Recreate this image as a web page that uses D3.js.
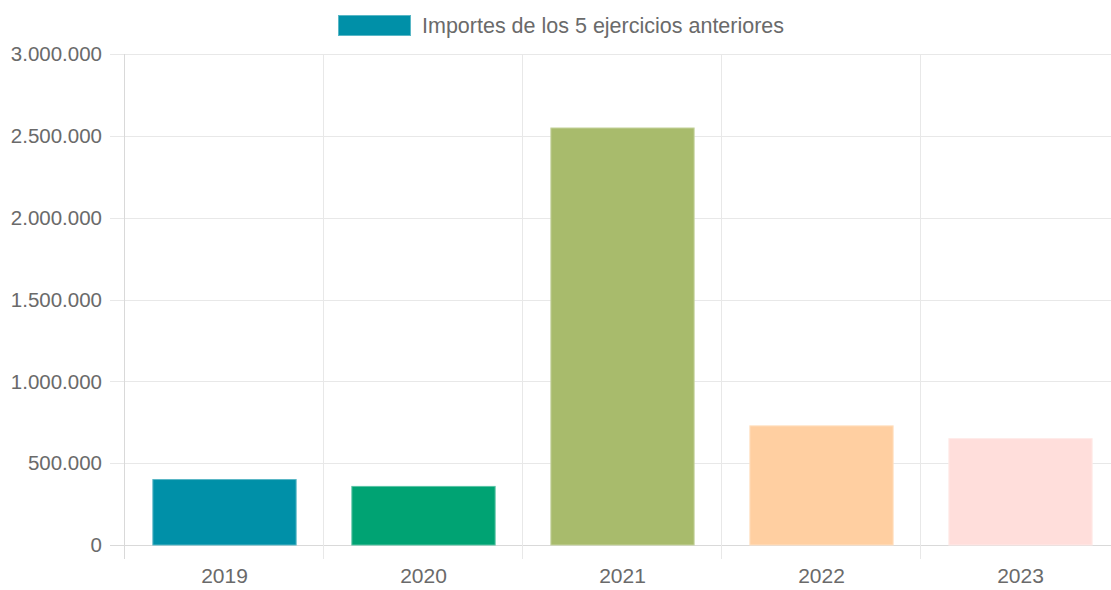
<!DOCTYPE html>
<html>
<head>
<meta charset="utf-8">
<script src="https://cdn.jsdelivr.net/npm/d3@7"></script>
<style>
  body { margin: 0; background: #fff; }
  svg text { font-family: "Liberation Sans", Arial, sans-serif; fill: #6a6a6a; }
</style>
</head>
<body>
<div id="chart"></div>
<script>
// Data
const years = ["2019", "2020", "2021", "2022", "2023"];
const amounts = [400000, 358000, 2548000, 728000, 650000];
const barColors = ["#0090a8", "#00a373", "#a8bb6c", "#ffcfa1", "#ffdedb"];
const yTicks = [0, 500000, 1000000, 1500000, 2000000, 2500000, 3000000];
const seriesLabel = "Importes de los 5 ejercicios anteriores";

const width = 1111;
const height = 590;
const margin = { top: 54, right: -9, bottom: 45, left: 125 };

const svg = d3.select("#chart")
    .append("svg")
    .attr("width", width)
    .attr("height", height);

const x = d3.scaleBand()
    .domain(years)
    .range([margin.left, width - margin.right])
    .paddingInner(0)
    .paddingOuter(0);

const y = d3.scaleLinear()
    .domain([0, 3000000])
    .range([height - margin.bottom, margin.top]);

const fmt = d => d3.format(",")(d).replace(/,/g, ".");

// Horizontal grid lines + ticks
svg.append("g")
    .selectAll("line")
    .data(yTicks)
    .enter()
    .append("line")
    .attr("x1", margin.left - 15)
    .attr("x2", width)
    .attr("y1", d => Math.round(y(d)) + 0.5)
    .attr("y2", d => Math.round(y(d)) + 0.5)
    .attr("stroke", d => d === 0 ? "#d9d9d9" : "#e8e8e8")
    .attr("stroke-width", 1);

// Vertical grid lines at category edges
const edges = years.map(d => x(d));
svg.append("g")
    .selectAll("line")
    .data(edges)
    .enter()
    .append("line")
    .attr("x1", d => Math.round(d) - 0.5)
    .attr("x2", d => Math.round(d) - 0.5)
    .attr("y1", margin.top)
    .attr("y2", height - margin.bottom + 14)
    .attr("stroke", (d, i) => i === 0 ? "#d9d9d9" : "#e8e8e8")
    .attr("stroke-width", 1);

// Y tick labels
svg.append("g")
    .selectAll("text")
    .data(yTicks)
    .enter()
    .append("text")
    .attr("x", margin.left - 23)
    .attr("y", d => y(d))
    .attr("dy", "0.35em")
    .attr("text-anchor", "end")
    .style("font-size", "20.5px")
    .text(fmt);

// X tick labels
svg.append("g")
    .selectAll("text")
    .data(years)
    .enter()
    .append("text")
    .attr("x", d => x(d) + x.bandwidth() / 2)
    .attr("y", height - margin.bottom + 38)
    .attr("text-anchor", "middle")
    .style("font-size", "21px")
    .text(d => d);

// Bars
const barW = x.bandwidth() * 0.72;
svg.append("g")
    .selectAll("rect")
    .data(amounts)
    .enter()
    .append("rect")
    .attr("x", (d, i) => x(years[i]) + (x.bandwidth() - barW) / 2)
    .attr("y", d => y(d))
    .attr("width", barW)
    .attr("height", d => y(0) - y(d))
    .attr("fill", (d, i) => barColors[i])
    .attr("stroke", (d, i) => d3.interpolateRgb(barColors[i], "#fff")(0.35))
    .attr("stroke-width", 1);

// Legend
const legend = svg.append("g");
legend.append("rect")
    .attr("x", 338.5)
    .attr("y", 15.5)
    .attr("width", 72)
    .attr("height", 20)
    .attr("fill", barColors[0])
    .attr("stroke", d3.interpolateRgb(barColors[0], "#fff")(0.35));
legend.append("text")
    .attr("x", 422)
    .attr("y", 25)
    .attr("dy", "0.35em")
    .style("font-size", "21.5px")
    .text(seriesLabel);
</script>
</body>
</html>
